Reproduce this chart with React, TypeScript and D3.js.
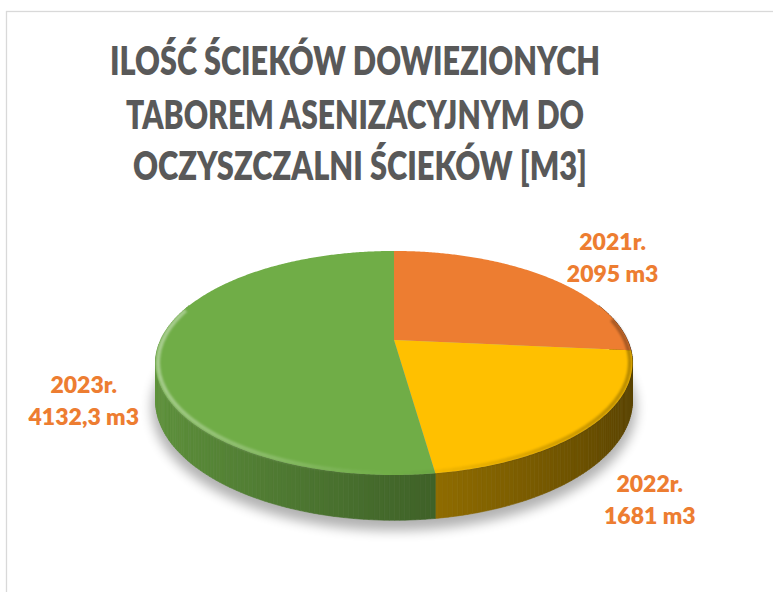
import React from "react";
import * as d3 from "d3";

// ---- data ----
const years = ["2021r.", "2022r.", "2023r."];
const volumes = [2095, 1681, 4132.3];
const volumeLabels = ["2095 m3", "1681 m3", "4132,3 m3"];
const sliceColors = ["#ED7D31", "#FFC000", "#70AD47"];
const titleLines = [
  "ILOŚĆ ŚCIEKÓW DOWIEZIONYCH",
  "TABOREM ASENIZACYJNYM DO",
  "OCZYSZCZALNI ŚCIEKÓW [M3]",
];

// ---- layout ----
const W = 773;
const H = 592;
const CX = 394;
const CY = 340;
const KX = 233.4;
const KY = 107.3;
const P = 0.205;
const DEPTH = 36;
const titleLayout = [
  { x: 355, y: 75, len: 490 },
  { x: 355, y: 129, len: 458 },
  { x: 360, y: 180, len: 454 },
];
const labelOffsets = [
  [67, -26.5],
  [59, 65.6],
  [-74, 45.4],
];
const FONT = "Lato, 'Open Sans', sans-serif";

function proj(a: number, r = 1, h = 0): [number, number] {
  const x = Math.sin(a) * r;
  const z = -Math.cos(a) * r;
  const d = 1 - P * z;
  return [CX + (KX * x) / d, CY + (KY * z + h) / d];
}

function samples(a0: number, a1: number, step = Math.PI / 360): number[] {
  const s = d3.range(a0, a1, step);
  s.push(a1);
  return s;
}

function shade(c: string, f: number): string {
  const col = d3.rgb(c);
  return d3.rgb(col.r * f, col.g * f, col.b * f).formatHex();
}

export default function App() {
  const pie = d3
    .pie<number>()
    .sort(null)
    .value((d) => d)
    .startAngle(0)
    .endAngle(2 * Math.PI);
  const arcs = pie(volumes);
  const line = d3.line();

  // walls
  const walls: { d: string; fill: string; z: number }[] = [];
  const lo = Math.PI / 2 - 0.35;
  const hi = (3 * Math.PI) / 2 + 0.35;
  arcs.forEach((a, i) => {
    const s0 = Math.max(a.startAngle, lo);
    const s1 = Math.min(a.endAngle, hi);
    if (s1 <= s0) return;
    const pts = samples(s0, s1, Math.PI / 180);
    for (let k = 0; k < pts.length - 1; k++) {
      const t0 = pts[k];
      const t1 = pts[k + 1];
      const mid = (t0 + t1) / 2;
      const f = 0.6 - 0.26 * Math.sin(mid);
      const poly: [number, number][] = [
        proj(t0),
        proj(t1),
        proj(t1, 1, DEPTH),
        proj(t0, 1, DEPTH),
      ];
      walls.push({
        d: line(poly) + "Z",
        fill: shade(sliceColors[i], f),
        z: -Math.cos(mid),
      });
    }
  });
  walls.sort((a, b) => a.z - b.z);

  const tops = arcs.map((a, i) => {
    const pts: [number, number][] = [[CX, CY]];
    samples(a.startAngle, a.endAngle).forEach((t) => pts.push(proj(t)));
    return { d: line(pts) + "Z", fill: sliceColors[i] };
  });

  const shadowPts = samples(0, 2 * Math.PI).map((t) => proj(t, 1.015, DEPTH + 6));
  const shadowD = line(shadowPts) + "Z";

  // rim highlight segments
  const rim: { d: string; stroke: string }[] = [];
  const rimPts = samples(Math.PI / 2 - 0.2, (3 * Math.PI) / 2 + 0.3, Math.PI / 90);
  for (let k = 0; k < rimPts.length - 1; k++) {
    const m = (rimPts[k] + rimPts[k + 1]) / 2;
    const s = Math.sin(m);
    const stroke =
      s > 0
        ? `rgba(0,0,0,${(0.3 * s).toFixed(3)})`
        : `rgba(255,255,255,${(0.4 * -s).toFixed(3)})`;
    rim.push({
      d: line([proj(rimPts[k], 0.99), proj(rimPts[k + 1], 0.99)]) || "",
      stroke,
    });
  }

  const labels = arcs.map((a, i) => {
    const mid = (a.startAngle + a.endAngle) / 2;
    const [x, y] = proj(mid);
    return { x: x + labelOffsets[i][0], y: y + labelOffsets[i][1], i };
  });

  return (
    <div style={{ position: "absolute", left: 0, top: 0 }}>
      <svg width={W} height={H} viewBox={`0 0 ${W} ${H}`}>
        <defs>
          <filter id="shadowBlur" x="-20%" y="-20%" width="140%" height="140%">
            <feGaussianBlur stdDeviation="6" />
          </filter>
          <filter id="rimBlur" x="-10%" y="-10%" width="120%" height="120%">
            <feGaussianBlur stdDeviation="1.3" />
          </filter>
        </defs>
        <rect x={0} y={0} width={W} height={H} fill="#fff" />
        <rect
          x={6.5}
          y={11.5}
          width={W + 20}
          height={H + 20}
          fill="#fff"
          stroke="#D9D9D9"
          strokeWidth={1.3}
        />
        {titleLines.map((t, i) => (
          <text
            key={i}
            x={titleLayout[i].x}
            y={titleLayout[i].y}
            textAnchor="middle"
            fontFamily={FONT}
            fontWeight={800}
            fontSize={40}
            fill="#595959"
            textLength={titleLayout[i].len}
            lengthAdjust="spacingAndGlyphs"
          >
            {t}
          </text>
        ))}
        <path d={shadowD} fill="#000" opacity={0.3} filter="url(#shadowBlur)" />
        <g>
          {walls.map((w, k) => (
            <path key={k} d={w.d} fill={w.fill} stroke={w.fill} strokeWidth={0.6} />
          ))}
        </g>
        <g>
          {tops.map((t, k) => (
            <path key={k} d={t.d} fill={t.fill} />
          ))}
        </g>
        <g filter="url(#rimBlur)">
          {rim.map((r, k) => (
            <path key={k} d={r.d} stroke={r.stroke} strokeWidth={4} fill="none" />
          ))}
        </g>
        {labels.map((l) => (
          <text
            key={l.i}
            x={l.x}
            y={l.y}
            textAnchor="middle"
            fontFamily={FONT}
            fontWeight={800}
            fontSize={23}
            fill="#ED7D31"
          >
            <tspan x={l.x} y={l.y}>
              {years[l.i]}
            </tspan>
            <tspan x={l.x} y={l.y + 32}>
              {volumeLabels[l.i]}
            </tspan>
          </text>
        ))}
      </svg>
    </div>
  );
}
